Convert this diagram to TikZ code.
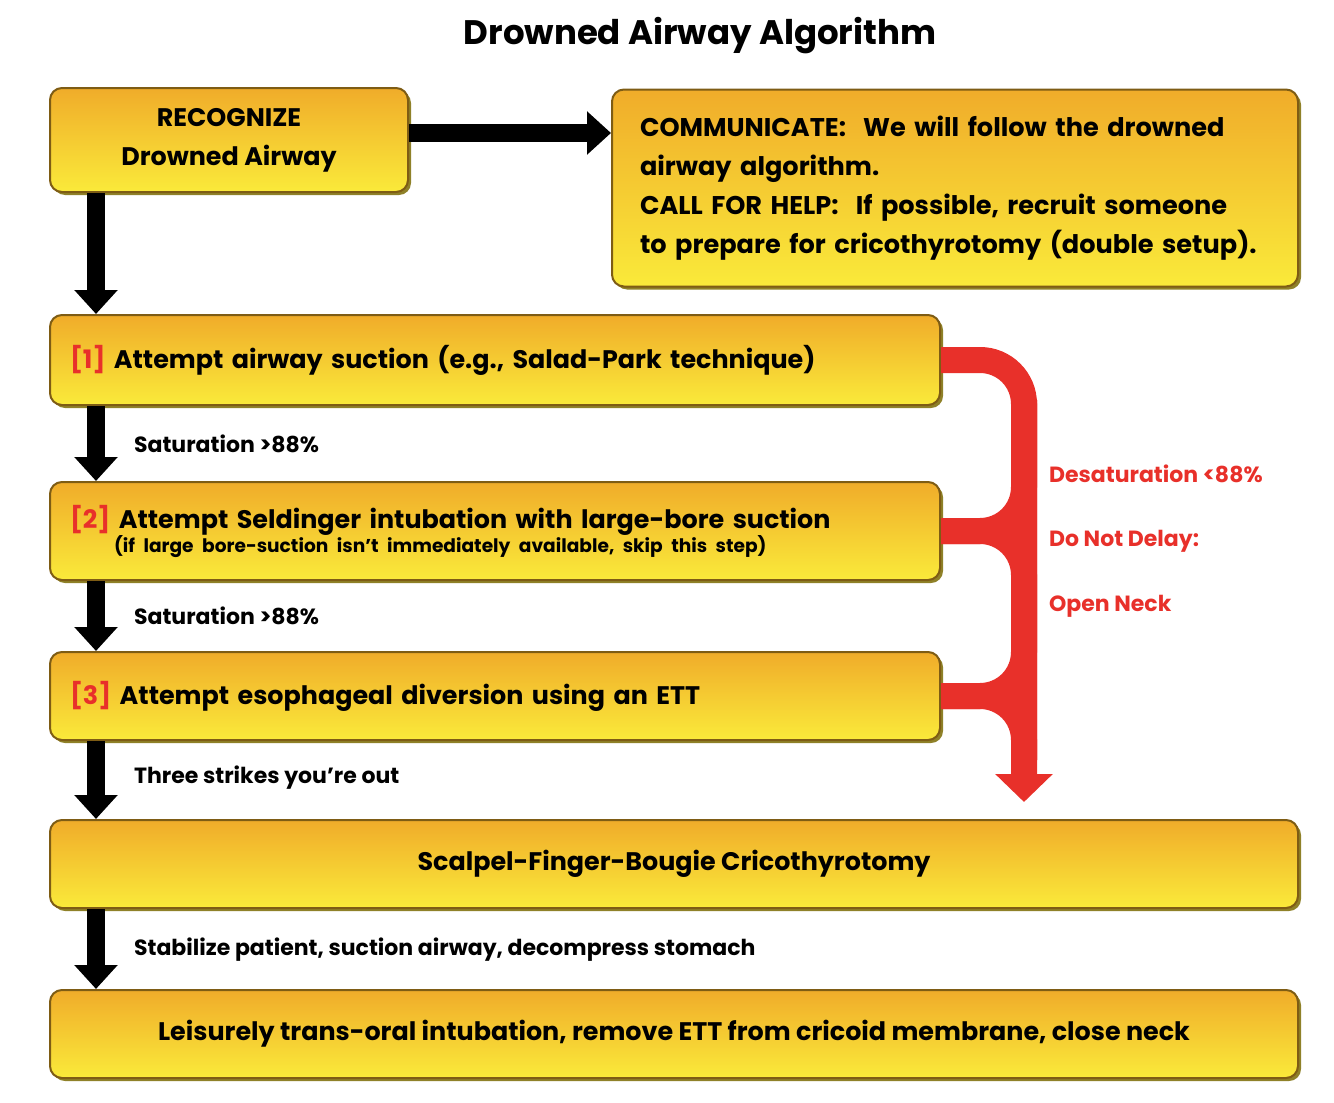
\documentclass[tikz,border=0pt]{standalone}
\usepackage{fontspec}
\setmainfont{Poppins}
\usetikzlibrary{arrows.meta,shadows}
\definecolor{boxtop}{HTML}{F0AC2A}
\definecolor{boxbot}{HTML}{FAEA3A}
\definecolor{boxline}{HTML}{7E5C14}
\definecolor{boxshade}{HTML}{8F8128}
\definecolor{alarm}{HTML}{E8302A}
\tikzset{
  stepbox/.style = {rectangle, rounded corners=6pt, draw=boxline, line width=1pt,
    top color=boxtop, bottom color=boxbot, font=\bfseries\fontsize{12.7}{16}\selectfont,
    drop shadow={shadow xshift=1.5pt, shadow yshift=-1.5pt, fill=boxshade, opacity=1}},
  flow/.style = {line width=9pt, -{Triangle[width=21pt,length=12pt]}},
  bail/.style = {alarm, line width=13pt, rounded corners=22pt},
  note/.style = {anchor=west, font=\bfseries\fontsize{11}{13}\selectfont},
  warn/.style = {anchor=west, alarm, font=\bfseries\fontsize{11}{13}\selectfont},
}

\begin{document}
\begin{tikzpicture}[x=0.5pt,y=-0.5pt]
  \useasboundingbox (0,0) rectangle (1334,1103);
  \node[font=\bfseries\fontsize{17}{20}\selectfont] (title) at (700,36) {Drowned Airway Algorithm};

  \node[stepbox, minimum width=179pt, minimum height=52pt, align=center,
    font=\bfseries\fontsize{12.7}{19.5}\selectfont] (rec) at (229,140)
    {RECOGNIZE\\Drowned Airway};
  \node[stepbox, minimum height=98.5pt, text width=315pt, inner xsep=14pt, align=left,
    font=\bfseries\fontsize{12.8}{19.5}\selectfont] (comm) at (955,188)
    {COMMUNICATE:\ \ We will follow the drowned\\airway algorithm.\\
     CALL FOR HELP:\ \ If possible, recruit someone\\to prepare for cricothyrotomy (double setup).};
  \node[stepbox, minimum height=45pt, text width=425pt, inner xsep=10pt, align=left] (b1) at (495,360)
    {\textcolor{alarm}{[1]} Attempt airway suction (e.g., Salad-Park technique)};
  \node[stepbox, minimum height=49pt, text width=425pt, inner xsep=10pt, align=left] (b2) at (495,531)
    {\textcolor{alarm}{[2]} Attempt Seldinger intubation with large-bore suction\\[-4pt]
     \hspace*{22pt}{\fontsize{9.3}{10}\selectfont(if large bore-suction isn't immediately available, skip this step)}};
  \node[stepbox, minimum height=44pt, text width=425pt, inner xsep=10pt, align=left] (b3) at (495,696)
    {\textcolor{alarm}{[3]} Attempt esophageal diversion using an ETT};
  \node[stepbox, minimum width=624pt, minimum height=44pt] (scal) at (674,864)
    {Scalpel-Finger-Bougie Cricothyrotomy};
  \node[stepbox, minimum width=624pt, minimum height=44pt] (leis) at (674,1034)
    {Leisurely trans-oral intubation, remove ETT from cricoid membrane, close neck};

  \coordinate (ax) at (96,0);
  \draw[flow] ([yshift=3.5pt]rec.east) -- ([yshift=3.5pt]rec.east -| comm.west);
  \draw[flow] (rec.south -| ax) -- (b1.north -| ax);
  \draw[flow] (b1.south -| ax) -- (b2.north -| ax);
  \draw[flow] (b2.south -| ax) -- (b3.north -| ax);
  \draw[flow] (b3.south -| ax) -- (scal.north -| ax);
  \draw[flow] (scal.south -| ax) -- (leis.north -| ax);

  \node[note] (s1) at (127,444) {Saturation >88\%};
  \node[note] (s2) at (127,616) {Saturation >88\%};
  \node[note] (s3) at (127,778) {Three strikes you’re out};
  \node[note] (s4) at (127,950) {Stabilize patient, suction airway, decompress stomach};

  \coordinate (redtip) at (1024,802);
  \coordinate (redtop) at (1024,400);
  \coordinate (redjoin) at (1024,760);
  \draw[bail, -{Triangle[width=28pt,length=14pt]}] (b1.east) -| (redtip);
  \draw[bail] (b2.east) -| (redtop);
  \draw[bail] (b2.east) -| (redjoin);
  \draw[bail] (b3.east) -| (redtop);
  \draw[bail] (b3.east) -| (redjoin);

  \node[warn] (w1) at (1042,474) {Desaturation <88\%};
  \node[warn] (w2) at (1042,541) {Do Not Delay:};
  \node[warn] (w3) at (1042,606) {Open Neck};
\end{tikzpicture}
\end{document}
